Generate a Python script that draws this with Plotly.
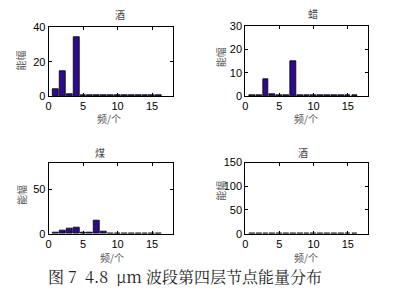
import plotly.graph_objects as go

bins = list(range(1, 17))
wax1 = [4.4, 14.3, 1.1, 34.1] + [0.4] * 12
wax2 = [0.3, 0.3, 7.5, 0.8, 0.3, 0.3, 15.1] + [0.3] * 9
coal = [1.0, 3.9, 5.7, 6.7, 1.0, 1.0, 15.2, 2.0] + [0.6] * 8
wine = [1.0] * 16

titles = ["酒", "蜡", "煤", "酒"]
yranges = [[0, 40], [0, 30], [0, 80], [0, 150]]
yticks = [[0, 20, 40], [0, 10, 20, 30], [0, 50], [0, 50, 100, 150]]
xticks = [0, 5, 10, 15]
xlabel = "频/个"
ylabel = "能幅"
caption = "图 7  4.8  μm 波段第四层节点能量分布"

W, H = 411, 304
boxes = [(46, 171, 22, 94), (244, 368, 21, 94), (46, 171, 163, 237), (244, 368, 163, 237)]
title_pos = [(118, 9), (312, 8), (98, 153), (302, 153)]
ylab_pos = [(18, 57), (220, 53), (18, 197), (219, 192)]
xlab_pos = [(107, 117), (305, 117), (110, 262), (305, 262)]

series = [wax1, wax2, coal, wine]
fig = go.Figure()
cjk = "Noto Sans CJK SC"
annotations = []


def ann(x, y, text, font, angle=0):
    return dict(x=x / W, y=1 - y / H, xref="paper", yref="paper", text=text,
                xanchor="center", yanchor="middle", textangle=angle,
                showarrow=False, font=font)


for i, (vals, box) in enumerate(zip(series, boxes)):
    n = "" if i == 0 else str(i + 1)
    fig.add_trace(go.Bar(x=bins, y=vals, width=0.85, xaxis="x" + n, yaxis="y" + n,
                         marker=dict(color="#2e0b8c", line=dict(color="black", width=0.8)),
                         showlegend=False))
    x0, x1, y0, y1 = box
    common = dict(showline=True, linecolor="black", linewidth=1, mirror="ticks",
                  ticks="inside", ticklen=3, tickcolor="black", showgrid=False,
                  zeroline=False, tickfont=dict(family="Liberation Sans", size=11, color="black"))
    fig.layout["xaxis" + n] = dict(domain=[x0 / W, x1 / W], range=[0, 18], tickvals=xticks,
                                   anchor="y" + n, **common)
    fig.layout["yaxis" + n] = dict(domain=[1 - y1 / H, 1 - y0 / H], range=yranges[i],
                                   tickvals=yticks[i], anchor="x" + n, **common)
    tx, ty = title_pos[i]
    annotations.append(ann(tx, ty, titles[i], dict(family=cjk, size=10, color="#444")))
    lx, ly = ylab_pos[i]
    annotations.append(ann(lx, ly, ylabel, dict(family=cjk, size=10, color="#555"), -90))
    bx, by = xlab_pos[i]
    annotations.append(ann(bx, by, xlabel, dict(family=cjk, size=10, color="#555")))

annotations.append(ann(183, 282, caption,
                       dict(family="Noto Serif CJK SC, Liberation Serif, Noto Sans CJK SC", size=16, color="#222")))

fig.update_layout(width=W, height=H, margin=dict(l=0, r=0, t=0, b=0),
                  paper_bgcolor="white", plot_bgcolor="white", bargap=0,
                  annotations=annotations)
fig.write_html("out.html")
